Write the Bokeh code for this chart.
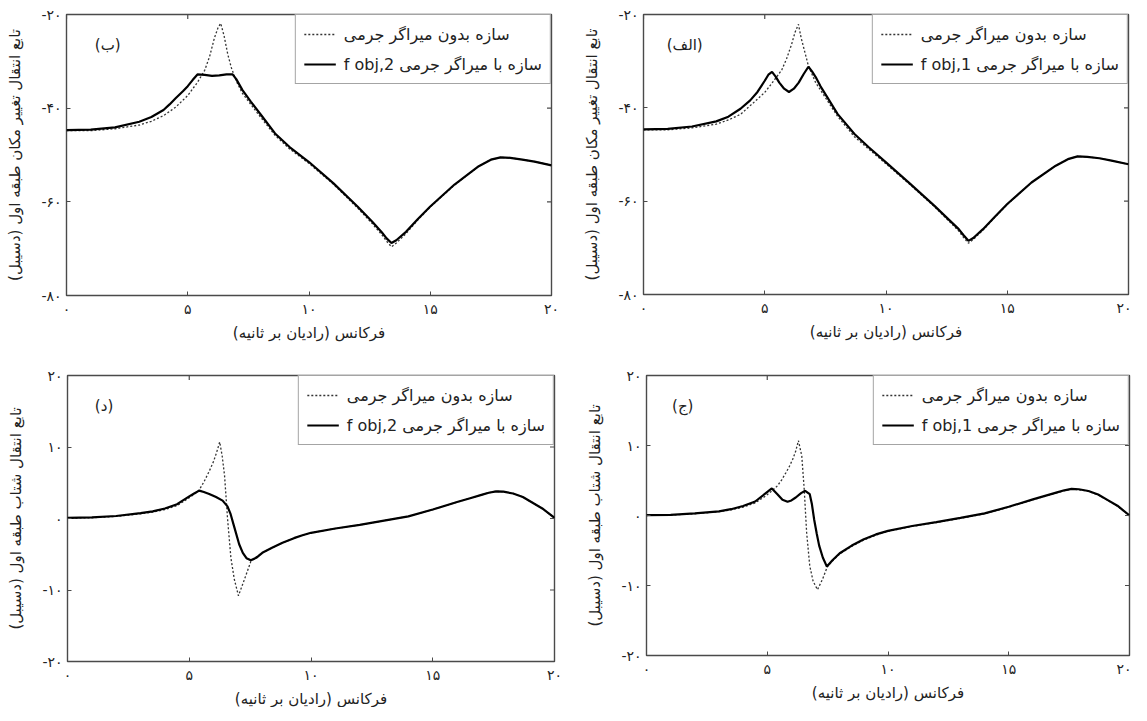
import math
from bokeh.plotting import figure
from bokeh.models import Range1d, FixedTicker, Legend, LegendItem, Label
from bokeh.layouts import column, row
from bokeh.embed import file_html
from bokeh.resources import INLINE

RLE, PDF = "\u202b", "\u202c"


def rtl(s):
    return RLE + s + PDF


FONT = "DejaVu Sans"

# ---------------- texts ----------------
x_label = rtl("فرکانس (رادیان بر ثانیه)")
y_label_disp = rtl("تابع انتقال تغییر مکان طبقه اول (دسیبل)")
y_label_acc = rtl("تابع انتقال شتاب طبقه اول (دسیبل)")
legend_without = rtl("سازه بدون میراگر جرمی")
legend_with_1 = rtl("سازه با میراگر جرمی f obj,1")
legend_with_2 = rtl("سازه با میراگر جرمی f obj,2")
panel_names = ["(الف)", "(ب)", "(ج)", "(د)"]

x_ticks = [0, 5, 10, 15, 20]
x_tick_labels = ["۰", "۵", "۱۰", "۱۵", "۲۰"]
disp_ticks = [-80, -60, -40, -20]
disp_tick_labels = ["-۸۰", "-۶۰", "-۴۰", "-۲۰"]
acc_ticks = [-20, -10, 0, 10, 20]
acc_tick_labels = ["-۲۰", "-۱۰", "۰", "۱۰", "۲۰"]

# ---------------- data: (الف) displacement, f_obj,1 ----------------
freq_a_with = [0, 1, 2, 3, 3.5, 4, 4.4, 4.7, 5.0, 5.15, 5.3, 5.45, 5.6, 5.8, 6.0, 6.2, 6.4, 6.6, 6.8,
               6.95, 7.1, 7.3, 7.55, 8.0, 8.7, 9.3, 10, 11, 12, 12.6, 13, 13.2, 13.4, 13.6, 14, 14.5,
               15, 16, 17, 17.5, 17.9, 18.3, 18.8, 19.3, 20]
disp_a_with = [-44.6, -44.5, -44.0, -42.9, -41.9, -40.2, -38.4, -36.6, -34.2, -32.9, -32.3, -33.3,
               -34.6, -35.9, -36.6, -35.9, -34.6, -32.8, -31.2, -32.2, -33.4, -35.4, -37.5, -41.3,
               -45.6, -48.5, -51.7, -56.3, -61.0, -64.0, -66.0, -67.3, -68.5, -67.9, -66.0, -63.3,
               -60.6, -56.0, -52.4, -51.0, -50.4, -50.5, -50.8, -51.3, -52.1]
freq_a_without = [0, 1, 2, 3, 3.5, 4, 4.6, 5.0, 5.3, 5.7, 5.9, 6.1, 6.25, 6.39, 6.5, 6.65, 6.8, 7.1,
                  7.5, 8.0, 8.7, 9.3, 10, 11, 12, 12.6, 13, 13.2, 13.4, 13.6, 14, 14.5, 15, 16, 17,
                  17.5, 17.9, 18.3, 18.8, 19.3, 20]
disp_a_without = [-44.7, -44.7, -44.3, -43.5, -42.6, -41.4, -38.6, -36.7, -34.7, -31.9, -29.5, -26.5,
                  -23.8, -22.1, -25.0, -28.0, -31.0, -34.6, -37.8, -41.8, -46.2, -48.9, -52.0, -56.5,
                  -61.2, -64.3, -66.4, -67.8, -69.0, -68.2, -66.2, -63.4, -60.7, -56.0, -52.4, -51.0,
                  -50.4, -50.5, -50.8, -51.3, -52.1]

# ---------------- data: (ب) displacement, f_obj,2 ----------------
freq_b_with = [0, 1, 2, 3, 3.5, 4, 4.25, 4.5, 4.8, 5.0, 5.2, 5.4, 5.7, 6.0, 6.3, 6.6, 6.85, 7.0, 7.25,
               7.6, 8.0, 8.6, 9.2, 10, 11, 12, 12.6, 13, 13.2, 13.4, 13.6, 14, 14.5, 15, 16, 17,
               17.5, 17.9, 18.3, 18.8, 19.3, 20]
disp_b_with = [-44.7, -44.6, -44.1, -42.9, -41.9, -40.4, -39.2, -37.9, -36.4, -35.3, -34.0, -32.8,
               -32.9, -33.1, -33.0, -32.8, -32.8, -33.8, -36.1, -38.6, -41.3, -45.4, -48.3, -51.5,
               -56.0, -61.0, -64.2, -66.5, -67.8, -68.8, -68.2, -66.4, -63.6, -61.0, -56.3, -52.4,
               -51.0, -50.5, -50.6, -51.0, -51.4, -52.2]
freq_b_without = [0, 1, 2, 3, 3.5, 4, 4.5, 5.0, 5.4, 5.7, 5.9, 6.1, 6.25, 6.36, 6.5, 6.65, 6.8, 7.0,
                  7.25, 7.6, 8.0, 8.6, 9.2, 10, 11, 12, 12.6, 13, 13.2, 13.4, 13.6, 14, 14.5, 15, 16,
                  17, 17.5, 17.9, 18.3, 18.8, 19.3, 20]
disp_b_without = [-44.8, -44.8, -44.4, -43.6, -42.8, -41.6, -39.8, -37.3, -34.5, -31.9, -29.0, -25.0,
                  -22.8, -21.9, -24.6, -28.5, -31.4, -34.2, -36.8, -39.2, -41.9, -45.8, -48.7, -51.8,
                  -56.2, -61.3, -64.6, -67.0, -68.4, -69.6, -68.8, -66.8, -63.8, -61.1, -56.4, -52.4,
                  -51.0, -50.5, -50.6, -51.0, -51.4, -52.2]

# ---------------- data: (ج) acceleration, f_obj,1 ----------------
freq_c_with = [0, 1, 2, 3, 3.5, 4, 4.5, 4.94, 5.19, 5.42, 5.63, 5.84, 6.0, 6.18, 6.4, 6.57, 6.76, 6.85,
               6.94, 7.05, 7.15, 7.3, 7.47, 7.7, 8.0, 8.5, 9.0, 9.5, 10, 11, 12, 13, 14, 15,
               16, 16.5, 17, 17.3, 17.6, 17.9, 18.3, 18.7, 19.1, 19.5, 20]
acc_c_with = [0.05, 0.1, 0.3, 0.6, 0.9, 1.35, 2.0, 3.19, 3.86, 3.04, 2.24, 1.96, 2.15, 2.57, 3.2, 3.53,
              3.04, 1.6, -0.53, -2.6, -4.3, -6.0, -7.3, -6.4, -5.4, -4.3, -3.4, -2.7, -2.2,
              -1.5, -0.95, -0.35, 0.3, 1.25, 2.3, 2.8, 3.3, 3.6, 3.8, 3.75, 3.5, 3.0, 2.2, 1.4, 0.0]
freq_c_without = [0, 1, 2, 3, 3.5, 4, 4.5, 4.94, 5.19, 5.42, 5.6, 5.77, 5.9, 6.05, 6.18, 6.29, 6.43,
                  6.53, 6.63, 6.76, 6.9, 7.08, 7.29, 7.49, 7.7, 8.0, 8.5, 9.0, 9.5, 10, 11,
                  12, 13, 14, 15, 16, 16.5, 17, 17.3, 17.6, 17.9, 18.3, 18.7, 19.1, 19.5, 20]
acc_c_without = [0.0, 0.05, 0.25, 0.55, 0.8, 1.2, 1.8, 2.8, 3.5, 4.24, 5.1, 6.1, 6.9, 8.0, 9.2, 10.7,
                 8.5, 3.76, -2.4, -7.2, -9.4, -10.6, -9.1, -7.3, -6.5, -5.5, -4.4, -3.5, -2.8,
                 -2.25, -1.55, -1.0, -0.4, 0.25, 1.2, 2.25, 2.75, 3.25, 3.55, 3.75, 3.7, 3.45,
                 2.95, 2.15, 1.35, 0.0]

# ---------------- data: (د) acceleration, f_obj,2 ----------------
freq_d_with = [0, 1, 2, 3, 3.5, 4, 4.5, 5.0, 5.2, 5.41, 5.6, 5.82, 6.1, 6.37, 6.57, 6.7, 6.85, 7.05,
               7.2, 7.35, 7.53, 7.75, 8.0, 8.4, 8.83, 9.3, 9.65, 10, 11, 12, 13, 14, 15, 16, 16.5,
               17, 17.3, 17.6, 17.9, 18.3, 18.7, 19.1, 19.5, 20]
acc_d_with = [0.1, 0.15, 0.35, 0.75, 1.0, 1.4, 2.0, 3.1, 3.5, 3.9, 3.7, 3.43, 3.0, 2.5, 1.7, 0.6, -1.2,
              -3.6, -4.8, -5.55, -5.85, -5.5, -4.8, -4.1, -3.4, -2.75, -2.35, -2.0, -1.4, -0.9, -0.3,
              0.3, 1.25, 2.3, 2.8, 3.3, 3.6, 3.8, 3.75, 3.5, 3.0, 2.2, 1.4, 0.1]
freq_d_without = [0, 1, 2, 3, 3.5, 4, 4.5, 5.0, 5.2, 5.41, 5.6, 5.82, 6.0, 6.12, 6.25, 6.35, 6.45,
                  6.57, 6.71, 6.85, 7.02, 7.15, 7.3, 7.53, 7.75, 8.0, 8.4, 8.83, 9.3, 9.65, 10, 11,
                  12, 13, 14, 15, 16, 16.5, 17, 17.3, 17.6, 17.9, 18.3, 18.7, 19.1, 19.5, 20]
acc_d_without = [0.05, 0.1, 0.3, 0.65, 0.9, 1.25, 1.8, 2.9, 3.4, 4.0, 5.1, 6.6, 8.0, 9.2, 10.7, 8.8,
                 6.0, 0.1, -5.5, -8.5, -10.8, -9.6, -8.2, -6.0, -5.4, -4.8, -4.1, -3.4, -2.75, -2.35,
                 -2.0, -1.4, -0.9, -0.3, 0.3, 1.25, 2.3, 2.8, 3.3, 3.6, 3.8, 3.75, 3.5, 3.0, 2.2,
                 1.4, 0.1]

# annotation positions of the panel letters (data units)
panel_label_x = [1.7, 1.7, 1.5, 1.5]
panel_label_y = [-26.6, -26.6, 15.6, 15.7]

X_RANGE = (0, 20)
TICK_COLOR = "#4a4a4a"


def make_panel(fx_with, y_with, fx_without, y_without, yr, yticks, ylabels, ylabel, legend_with,
               name, lx, ly, fw, fh, bl, br, bt, bb):
    p = figure(frame_width=fw, frame_height=fh, min_border_left=bl, min_border_right=br,
               min_border_top=bt, min_border_bottom=bb, x_range=Range1d(*X_RANGE),
               y_range=Range1d(*yr), output_backend="svg", toolbar_location=None, tools="")
    p.xgrid.visible = False
    p.ygrid.visible = False
    p.outline_line_color = TICK_COLOR
    p.outline_line_width = 1.4
    p.background_fill_color = "white"
    p.border_fill_color = "white"

    r_dot = p.line(fx_without, y_without, line_color="#333333", line_width=1.3, line_dash="2 2")
    r_sol = p.line(fx_with, y_with, line_color="black", line_width=2.2)

    # inner tick marks on the top and right edges of the box (MATLAB style)
    p.scatter(x=x_ticks, y=[yr[1]] * len(x_ticks), marker="dash", angle=math.pi / 2, size=9,
              line_color=TICK_COLOR, line_width=1.2)
    p.scatter(x=[X_RANGE[1]] * len(yticks), y=yticks, marker="dash", size=9,
              line_color=TICK_COLOR, line_width=1.2)

    xa = p.xaxis[0]
    xa.ticker = FixedTicker(ticks=x_ticks)
    xa.major_label_overrides = dict(zip(x_ticks, x_tick_labels))
    xa.axis_label = x_label
    ya = p.yaxis[0]
    ya.ticker = FixedTicker(ticks=yticks)
    ya.major_label_overrides = dict(zip(yticks, ylabels))
    ya.axis_label = ylabel
    for ax in (xa, ya):
        ax.axis_line_color = None
        ax.major_tick_in = 4
        ax.major_tick_out = 0
        ax.major_tick_line_color = TICK_COLOR
        ax.minor_tick_line_color = None
        ax.major_label_text_font = FONT
        ax.major_label_text_font_size = "14px"
        ax.major_label_text_color = "#222222"
        ax.axis_label_text_font = FONT
        ax.axis_label_text_font_size = "15px"
        ax.axis_label_text_font_style = "normal"
        ax.axis_label_text_color = "#222222"
    xa.major_label_standoff = 5
    xa.axis_label_standoff = 4
    ya.major_label_standoff = 5
    ya.axis_label_standoff = 14

    legend = Legend(items=[LegendItem(label=legend_without, renderers=[r_dot]),
                           LegendItem(label=legend_with, renderers=[r_sol])],
                    location="top_right", margin=0, padding=8, spacing=8, glyph_width=32,
                    glyph_height=22, label_standoff=8, label_text_font=FONT,
                    label_text_font_size="16px", label_text_color="#222222",
                    border_line_color=TICK_COLOR, border_line_width=1.3,
                    background_fill_color="white", background_fill_alpha=1.0)
    p.add_layout(legend)

    p.add_layout(Label(x=lx, y=ly, text=name, text_font=FONT, text_font_size="15px",
                       text_align="center", text_baseline="middle", text_color="#222222"))
    return p


p_a = make_panel(freq_a_with, disp_a_with, freq_a_without, disp_a_without, (-80, -20), disp_ticks,
                 disp_tick_labels, y_label_disp, legend_with_1, panel_names[0],
                 panel_label_x[0], panel_label_y[0], 485, 280, 66, 3, 14, 63)
p_b = make_panel(freq_b_with, disp_b_with, freq_b_without, disp_b_without, (-80, -20), disp_ticks,
                 disp_tick_labels, y_label_disp, legend_with_2, panel_names[1],
                 panel_label_x[1], panel_label_y[1], 485, 281, 66, 26, 13, 63)
p_c = make_panel(freq_c_with, acc_c_with, freq_c_without, acc_c_without, (-20, 20), acc_ticks,
                 acc_tick_labels, y_label_acc, legend_with_1, panel_names[2],
                 panel_label_x[2], panel_label_y[2], 483, 280, 69, 2, 18, 50)
p_d = make_panel(freq_d_with, acc_d_with, freq_d_without, acc_d_without, (-20, 20), acc_ticks,
                 acc_tick_labels, y_label_acc, legend_with_2, panel_names[3],
                 panel_label_x[3], panel_label_y[3], 487, 286, 67, 23, 15, 47)

layout = column(row(p_b, p_a), row(p_d, p_c))
open("out.html", "w").write(file_html(layout, INLINE))
